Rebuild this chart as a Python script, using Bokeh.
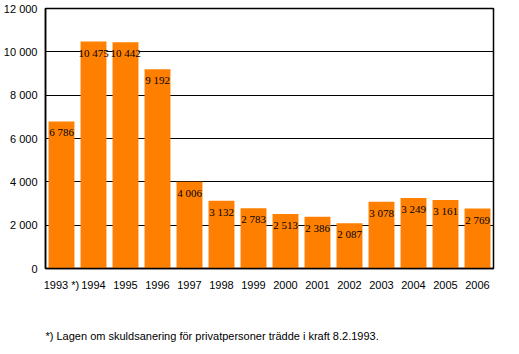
from bokeh.plotting import figure
from bokeh.models import ColumnDataSource, FactorRange, Range1d, FixedTicker, Title
from bokeh.embed import file_html
from bokeh.resources import INLINE

years = ["1993", "1994", "1995", "1996", "1997", "1998", "1999", "2000",
         "2001", "2002", "2003", "2004", "2005", "2006"]
tick_labels = ["1993 *)", "1994", "1995", "1996", "1997", "1998", "1999", "2000",
               "2001", "2002", "2003", "2004", "2005", "2006"]
values = [6786, 10475, 10442, 9192, 4006, 3132, 2783, 2513, 2386, 2087,
          3078, 3249, 3161, 2769]
y_ticks = [0, 2000, 4000, 6000, 8000, 10000, 12000]
footnote = "*) Lagen om skuldsanering för privatpersoner trädde i kraft 8.2.1993."

def fmt(v):
    return "{:,}".format(v).replace(",", " ")

src = ColumnDataSource(dict(x=tick_labels, year=years, top=values,
                            lab=[fmt(v) for v in values]))

FONT = "Liberation Sans"
p = figure(width=519, height=354, x_range=FactorRange(*tick_labels, range_padding=0),
           y_range=Range1d(0, 12000), output_backend="svg", toolbar_location=None,
           min_border_left=44, min_border_right=26, min_border_top=8,
           min_border_bottom=20)

p.vbar(x="x", top="top", width=0.81, source=src, fill_color="#FF8000",
       line_color=None)
p.text(x="x", y="top", text="lab", source=src, text_align="center",
       text_baseline="middle", y_offset=11, text_font_size="11px",
       text_color="black", text_font=FONT)

p.xgrid.grid_line_color = None
p.ygrid.ticker = FixedTicker(ticks=y_ticks)
p.ygrid.grid_line_color = "black"
p.ygrid.grid_line_width = 1.2
p.ygrid.level = "underlay"

p.yaxis.ticker = FixedTicker(ticks=y_ticks)
p.yaxis.major_label_overrides = {t: fmt(t) for t in y_ticks}

for ax in (p.xaxis[0], p.yaxis[0]):
    ax.axis_line_color = "black"
    ax.axis_line_width = 1.5
    ax.major_tick_line_color = None
    ax.minor_tick_line_color = None
    ax.major_tick_out = 0
    ax.major_tick_in = 0
    ax.minor_tick_out = 0
    ax.major_label_text_font = FONT
    ax.major_label_text_font_size = "11px"
    ax.major_label_text_color = "black"
p.yaxis.major_label_standoff = 8
p.xaxis.major_label_standoff = 10

p.outline_line_color = "black"
p.outline_line_width = 1.5
p.background_fill_color = "white"
p.border_fill_color = "white"

# empty spacer between the axis and the footnote
p.add_layout(Title(text=" ", text_font=FONT, text_font_size="11px",
                   standoff=8), "below")
p.add_layout(Title(text=footnote, align="left", text_font=FONT,
                   text_font_size="11px", text_font_style="normal",
                   text_color="black", standoff=25), "below")

open("out.html", "w").write(file_html(p, INLINE))
